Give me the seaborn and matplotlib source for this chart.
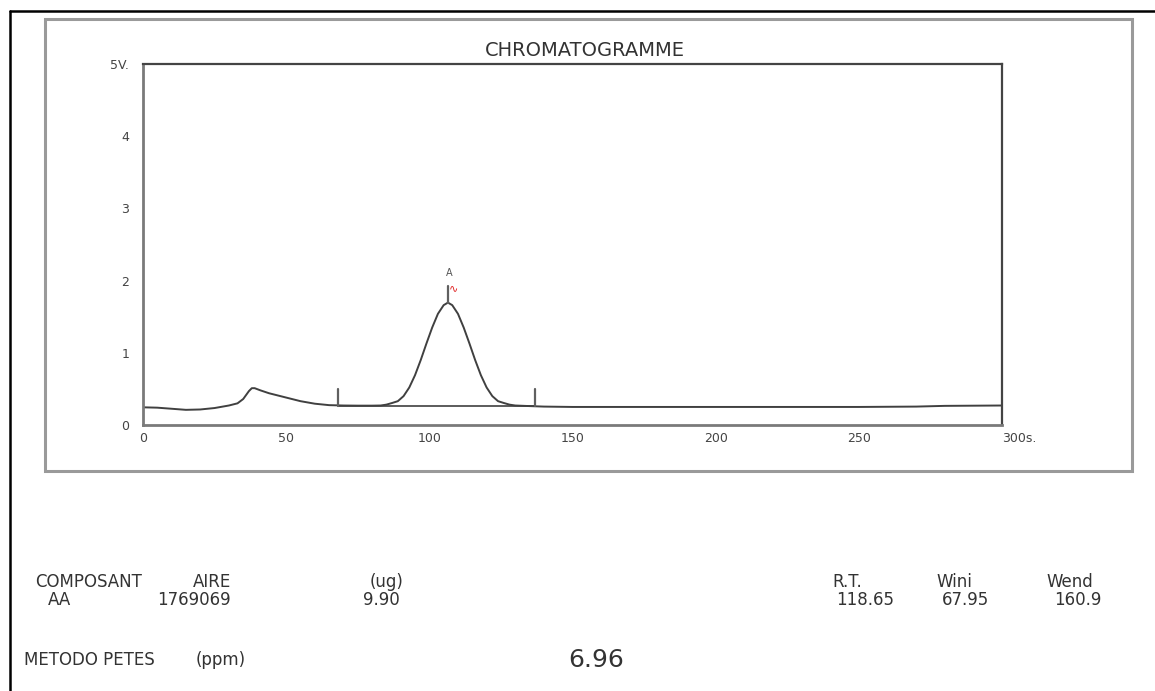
import matplotlib
matplotlib.use("Agg")
import matplotlib.pyplot as plt
import seaborn as sns
import pandas as pd
from matplotlib.patches import Rectangle
from matplotlib.lines import Line2D

# ---- data ----
time_s = [0, 5, 10, 15, 20, 25, 30, 33, 35, 37, 38, 39, 41, 44, 50, 55, 60, 65, 70, 75, 80,
          83, 85, 87, 89, 91, 93, 95, 97, 99, 101, 103, 105, 106.5, 108, 110, 112,
          114, 116, 118, 120, 122, 124, 126, 128, 130, 135, 140, 150, 200, 250, 270,
          280, 300]
signal_v = [0.245, 0.24, 0.225, 0.21, 0.215, 0.235, 0.27, 0.30, 0.36, 0.47, 0.51, 0.51,
            0.48, 0.44, 0.38, 0.33, 0.295, 0.275, 0.27, 0.268, 0.268,
            0.27, 0.282, 0.305, 0.33, 0.40, 0.52, 0.69, 0.90, 1.13, 1.35, 1.54, 1.66,
            1.695, 1.66, 1.54, 1.35, 1.13, 0.90, 0.69, 0.52, 0.40, 0.33, 0.305, 0.282,
            0.27, 0.262, 0.255, 0.25, 0.25, 0.25, 0.255, 0.265, 0.27]

window_marks = [67.95, 136.9]     # integration window markers (s)
window_base = 0.265               # baseline level (V)
window_mark_top = 0.50
peak_time = 106.5
peak_top = 1.695
peak_mark_top = 1.93
peak_name = "A"

x_ticks = [0, 50, 100, 150, 200, 250, 300]
x_tick_labels = ["0", "50", "100", "150", "200", "250", "300s."]
y_ticks = [0, 1, 2, 3, 4, 5]
y_tick_labels = ["0", "1", "2", "3", "4", "5V."]

title = "CHROMATOGRAMME"
table_header = ["COMPOSANT", "AIRE", "(ug)"]
table_row = ["AA", "1769069", "9.90"]
rt_header = ["R.T.", "Wini", "Wend"]
rt_row = ["118.65", "67.95", "160.9"]
method_label = "METODO PETES"
method_unit = "(ppm)"
method_value = "6.96"

# ---- figure ----
sns.set_style("white")
plt.rcParams["font.family"] = ["DejaVu Sans"]
W, H = 1155, 691
fig = plt.figure(figsize=(W / 100, H / 100), dpi=100)

def fx(px):
    return px / W

def fy(py):
    return 1 - py / H

ax = fig.add_axes([fx(143), fy(425), fx(1002) - fx(143), fy(64) - fy(425)])
df = pd.DataFrame({"t": time_s, "v": signal_v})
sns.lineplot(data=df, x="t", y="v", ax=ax, color="#404040", linewidth=1.4)

# baseline & markers
ax.plot([window_marks[0], window_marks[1]], [window_base, window_base],
        color="#404040", linewidth=1.2)
for m in window_marks:
    ax.plot([m, m], [window_base, window_mark_top], color="#606060", linewidth=1.6)
ax.plot([peak_time, peak_time], [peak_top, peak_mark_top], color="#606060", linewidth=1.6)
ax.text(peak_time + 0.5, peak_mark_top + 0.1, peak_name, fontsize=7, color="#555555",
        ha="center", va="bottom")
ax.text(peak_time + 1.8, peak_mark_top - 0.03, "\u223f", fontsize=8, color="#e02020",
        ha="center", va="center")

ax.set_xlim(0, 300)
ax.set_ylim(0, 5)
ax.set_xticks(x_ticks)
ax.set_xticklabels(x_tick_labels)
ax.set_yticks(y_ticks)
ax.set_yticklabels(y_tick_labels)
ax.set_xlabel("")
ax.set_ylabel("")
lbl = ax.get_xticklabels()[-1]
lbl.set_horizontalalignment("left")
ax.tick_params(axis="both", direction="out", length=4, width=1.2, colors="#555555",
               labelsize=9, labelcolor="#444444")
ax.tick_params(axis="x", pad=1)
ax.tick_params(axis="y", pad=6)
for side in ["left", "bottom"]:
    ax.spines[side].set_color("#7a7a7a")
    ax.spines[side].set_linewidth(2.0)
for side in ["top", "right"]:
    ax.spines[side].set_color("#444444")
    ax.spines[side].set_linewidth(1.6)

fig.text(fx(585), fy(50), title, fontsize=14, color="#333333", ha="center", va="center")

# frames
fig.patches.append(Rectangle((fx(45), fy(471)), fx(1132) - fx(45), fy(19) - fy(471),
                             transform=fig.transFigure, fill=False, edgecolor="#9a9a9a",
                             linewidth=2.2))
fig.lines.append(Line2D([fx(10), fx(10)], [fy(11), 0], transform=fig.transFigure,
                        color="black", linewidth=1.8))
fig.lines.append(Line2D([fx(10), 1], [fy(11), fy(11)], transform=fig.transFigure,
                        color="black", linewidth=1.8))

tc = "#333333"
fs = 12
for txt, px in zip(table_header, [35, 193, 370]):
    fig.text(fx(px), fy(582), txt, fontsize=fs, color=tc, ha="left", va="center")
for txt, px in zip(table_row, [48, 157, 363]):
    fig.text(fx(px), fy(600), txt, fontsize=fs, color=tc, ha="left", va="center")
for txt, px in zip(rt_header, [832, 936, 1046]):
    fig.text(fx(px), fy(582), txt, fontsize=fs, color=tc, ha="left", va="center")
for txt, px in zip(rt_row, [836, 942, 1054]):
    fig.text(fx(px), fy(600), txt, fontsize=fs, color=tc, ha="left", va="center")
fig.text(fx(24), fy(660), method_label, fontsize=fs, color=tc, ha="left", va="center")
fig.text(fx(196), fy(660), method_unit, fontsize=fs, color=tc, ha="left", va="center")
fig.text(fx(568), fy(660), method_value, fontsize=18, color=tc, ha="left", va="center")

fig.savefig("out.png", dpi=100, facecolor="white")
